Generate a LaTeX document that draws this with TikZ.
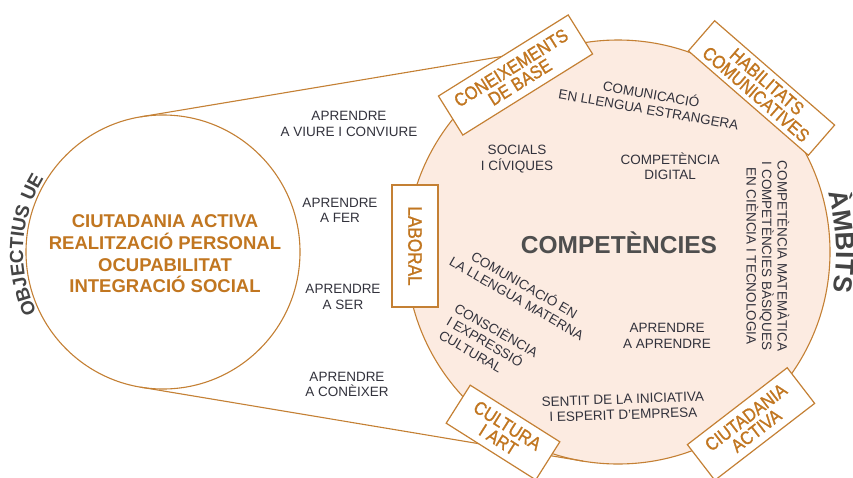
\documentclass[tikz,border=0pt]{standalone}
\usepackage{fontspec}
\setmainfont{Liberation Sans}
\newfontfamily\boxfont[FakeStretch=0.88,FakeBold=1.2]{Liberation Sans}
\usetikzlibrary{calc,decorations.text}
\definecolor{lineor}{RGB}{196,128,52}
\definecolor{txtor}{RGB}{193,118,32}
\definecolor{peach}{RGB}{252,235,225}
\definecolor{dtext}{RGB}{50,50,60}
\definecolor{gtitle}{RGB}{78,78,78}
\definecolor{glabel}{RGB}{68,68,68}
\begin{document}
\begin{tikzpicture}[x=1pt,y=1pt,
  inner/.style={text=dtext, font=\fontsize{13.5}{15.5}\selectfont, align=center, inner sep=0pt},
  boxlab/.style={draw=lineor, fill=white, line width=1.2pt, text=txtor, font=\boxfont\fontsize{18.5}{16.8}\selectfont, align=center, inner sep=0pt},
  ring/.style={circle, draw=lineor, line width=1.1pt, inner sep=0pt},
  link/.style={draw=lineor, line width=1.1pt},
]
\useasboundingbox (0,0) rectangle (853,-477);
\fill[white] (0,0) rectangle (853,-477);
% circles
\node[ring, fill=peach, minimum size=424pt] (comp) at (618,-252) {};
\node[ring, fill=white, minimum size=274pt] (obj) at (163,-252) {};
% tangents
\coordinate (ta) at ($(obj.center)+(99.49:137pt)$);
\coordinate (tb) at ($(comp.center)+(99.49:212pt)$);
\coordinate (tc) at ($(obj.center)+(260.51:137pt)$);
\coordinate (td) at ($(comp.center)+(260.51:212pt)$);
\draw[link] (ta) -- (tb);
\draw[link] (tc) -- (td);
% left circle text
\node[text=txtor, font=\bfseries\fontsize{18.5}{21.7}\selectfont, align=center, inner sep=0pt] (goals) at (165,-254)
  {CIUTADANIA ACTIVA\\REALITZACIÓ PERSONAL\\OCUPABILITAT\\INTEGRACIÓ SOCIAL};
% curved labels
\path[decorate, decoration={text along path, text align=center,
  text={|\color{glabel}\bfseries\fontsize{19}{19}\selectfont|OBJECTIUS UE}}]
  ($(obj.center)+(210:140pt)$) arc[start angle=210, end angle=144, radius=140pt];
\path[decorate, decoration={text along path, text align=center,
  text={|\color{glabel}\bfseries\fontsize{26}{26}\selectfont|ÀMBITS}}]
  ($(comp.center)+(22.65:218pt)$) arc[start angle=22.65, end angle=-17.35, radius=218pt];
% middle labels
\node[inner] (viure) at (349,-124) {APRENDRE\\A VIURE I CONVIURE};
\node[inner] (fer) at (340,-210.5) {APRENDRE\\A FER};
\node[inner] (ser) at (343,-297) {APRENDRE\\A SER};
\node[inner] (conei) at (347,-384.5) {APRENDRE\\A CONÈIXER};
% competences
\node[font=\bfseries\fontsize{24.5}{26}\selectfont, text=gtitle, anchor=base, inner sep=0pt] (title) at (619,-253) {COMPETÈNCIES};
\node[inner, rotate=-10] (estr) at (650,-101) {COMUNICACIÓ\\EN LLENGUA ESTRANGERA};
\node[inner] (soc) at (517,-159) {SOCIALS\\I CÍVIQUES};
\node[inner] (dig) at (670,-166) {COMPETÈNCIA\\DIGITAL};
\node[inner, rotate=-90] (mat) at (768,-256) {COMPETÈNCIA MATEMÀTICA\\I COMPETÈNCIES BÀSIQUES\\EN CIÈNCIA I TECNOLOGIA};
\node[inner, rotate=-30] (mater) at (521,-291) {COMUNICACIÓ EN\\LA LLENGUA MATERNA};
\node[inner, rotate=-30, align=left] (consc) at (489,-343) {CONSCIÈNCIA\\I EXPRESSIÓ\\CULTURAL};
\node[inner] (apr) at (667,-336) {APRENDRE\\A APRENDRE};
\node[inner, rotate=2] (sent) at (623,-407) {SENTIT DE LA INICIATIVA\\I ESPERIT D’EMPRESA};
% boxes
\node[boxlab, rotate=32, minimum width=153pt, minimum height=46pt] (base) at (515.5,-75) {CONEIXEMENTS\\DE BASE};
\node[boxlab, rotate=-41, minimum width=159pt, minimum height=40pt] (hab) at (761.5,-88) {HABILITATS\\COMUNICATIVES};
\node[boxlab, rotate=-90, minimum width=122pt, minimum height=46pt, font=\boxfont\fontsize{19.5}{19.5}\selectfont] (lab) at (415,-246) {LABORAL};
\node[boxlab, rotate=-32.3, minimum width=106pt, minimum height=45pt] (cult) at (503,-432.5) {CULTURA\\I ART};
\node[boxlab, rotate=37.6, minimum width=126pt, minimum height=45pt] (ciut) at (751,-424) {CIUTADANIA\\ACTIVA};
\end{tikzpicture}
\end{document}
